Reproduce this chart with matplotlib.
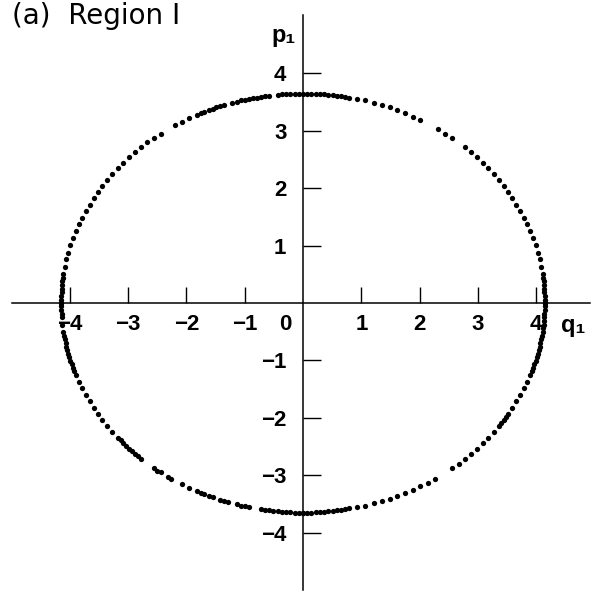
import numpy as np
import matplotlib
matplotlib.use('Agg')
from matplotlib import pyplot as plt

# surface-of-section points (q1, p1), listed quadrant by quadrant
q_ur = [4.15, 4.15, 4.15, 4.14, 4.14, 4.13, 4.13, 4.12, 4.11,
        4.09, 4.06, 4.03, 3.99, 3.95, 3.90, 3.85, 3.79, 3.73, 3.66, 3.59,
        3.52, 3.44, 3.36, 3.27, 3.18, 3.08, 2.99, 2.88, 2.78,
        2.56, 2.44, 2.32,
        2.01, 1.88, 1.75, 1.62, 1.49, 1.35, 1.21, 1.07, 0.93, 0.79,
        0.72, 0.65, 0.58, 0.51, 0.43, 0.36, 0.29, 0.22, 0.14, 0.07]
p_ur = [0.00, 0.06, 0.13, 0.19, 0.25, 0.32, 0.38, 0.44, 0.51,
        0.63, 0.76, 0.88, 1.01, 1.13, 1.25, 1.37, 1.48, 1.60, 1.71, 1.83,
        1.93, 2.04, 2.15, 2.25, 2.35, 2.44, 2.54, 2.63, 2.71,
        2.88, 2.95, 3.03,
        3.19, 3.25, 3.31, 3.36, 3.41, 3.45, 3.49, 3.53, 3.56, 3.58,
        3.59, 3.61, 3.61, 3.62, 3.63, 3.64, 3.64, 3.64, 3.65, 3.65]

q_ul = [0.00, -0.07, -0.14, -0.22, -0.29, -0.36, -0.43,
        -0.58, -0.65, -0.72, -0.79, -0.86, -0.93, -1.00, -1.07, -1.14, -1.21,
        -1.35, -1.42, -1.49, -1.55, -1.62, -1.69, -1.75, -1.82,
        -1.95, -2.08, -2.20,
        -2.44, -2.56, -2.67, -2.78, -2.88, -2.99, -3.08, -3.18, -3.27, -3.36,
        -3.44, -3.52, -3.59, -3.66, -3.73, -3.79, -3.85, -3.90, -3.95, -3.99,
        -4.03, -4.06, -4.09, -4.11,
        -4.12, -4.13, -4.13, -4.14, -4.14, -4.15, -4.15, -4.15]
p_ul = [3.65, 3.65, 3.65, 3.64, 3.64, 3.64, 3.63,
        3.61, 3.61, 3.59, 3.58, 3.57, 3.56, 3.54, 3.53, 3.51, 3.49,
        3.45, 3.43, 3.41, 3.38, 3.36, 3.33, 3.31, 3.28,
        3.22, 3.16, 3.10,
        2.95, 2.88, 2.80, 2.71, 2.63, 2.54, 2.44, 2.35, 2.25, 2.15,
        2.04, 1.93, 1.83, 1.71, 1.60, 1.48, 1.37, 1.25, 1.13, 1.01,
        0.88, 0.76, 0.63, 0.51,
        0.44, 0.38, 0.32, 0.25, 0.19, 0.13, 0.06, 0.00]

q_ll = [-4.15, -4.15, -4.15, -4.14, -4.14,
        -4.13, -4.11, -4.10, -4.09, -4.07, -4.06, -4.04, -4.03, -4.01, -3.99,
        -3.97, -3.95, -3.92, -3.90,
        -3.85, -3.79, -3.73, -3.66, -3.59, -3.52, -3.44, -3.36, -3.27, -3.18,
        -3.13, -3.08, -3.04, -2.99, -2.93, -2.88, -2.83, -2.78,
        -2.56, -2.50, -2.44, -2.32, -2.26,
        -2.08, -1.95, -1.82, -1.75, -1.69, -1.62, -1.55,
        -1.42, -1.35, -1.28, -1.14, -1.07, -1.00, -0.93,
        -0.72, -0.65, -0.58, -0.51, -0.43, -0.36, -0.29, -0.22, -0.14, -0.07, 0.00]
p_ll = [0.00, -0.06, -0.13, -0.19, -0.25,
        -0.38, -0.51, -0.57, -0.63, -0.70, -0.76, -0.82, -0.88, -0.94, -1.01,
        -1.07, -1.13, -1.19, -1.25,
        -1.37, -1.48, -1.60, -1.71, -1.83, -1.93, -2.04, -2.15, -2.25, -2.35,
        -2.39, -2.44, -2.49, -2.54, -2.58, -2.63, -2.67, -2.71,
        -2.88, -2.92, -2.95, -3.03, -3.06,
        -3.16, -3.22, -3.28, -3.31, -3.33, -3.36, -3.38,
        -3.43, -3.45, -3.47, -3.51, -3.53, -3.54, -3.56,
        -3.59, -3.61, -3.61, -3.62, -3.63, -3.64, -3.64, -3.64, -3.65, -3.65, -3.65]

q_lr = [4.15, 4.15, 4.15, 4.14, 4.14, 4.13, 4.13, 4.12, 4.11, 4.10, 4.09,
        4.07, 4.06, 4.04, 4.03, 4.01, 3.99, 3.97, 3.95, 3.92, 3.90,
        3.85, 3.79, 3.73, 3.66, 3.59, 3.52, 3.48, 3.44, 3.40, 3.36,
        3.27, 3.18, 3.08, 2.99, 2.88, 2.78, 2.67, 2.56,
        2.26, 2.14, 2.01, 1.88, 1.75, 1.62, 1.49, 1.35, 1.21, 1.07, 0.93, 0.79,
        0.72, 0.65, 0.58, 0.51, 0.43, 0.36, 0.29, 0.22, 0.14, 0.07, 0.00]
p_lr = [0.00, -0.06, -0.13, -0.19, -0.25, -0.32, -0.38, -0.44, -0.51, -0.57, -0.63,
        -0.70, -0.76, -0.82, -0.88, -0.94, -1.01, -1.07, -1.13, -1.19, -1.25,
        -1.37, -1.48, -1.60, -1.71, -1.83, -1.93, -1.99, -2.04, -2.09, -2.15,
        -2.25, -2.35, -2.44, -2.54, -2.63, -2.71, -2.80, -2.88,
        -3.06, -3.13, -3.19, -3.25, -3.31, -3.36, -3.41, -3.45, -3.49, -3.53,
        -3.56, -3.58,
        -3.59, -3.61, -3.61, -3.62, -3.63, -3.64, -3.64, -3.64, -3.65, -3.65, -3.65]

xticks = [-4, -3, -2, -1, 1, 2, 3, 4]
yticks = [-4, -3, -2, -1, 1, 2, 3, 4]
xticklabels = ['\u22124', '\u22123', '\u22122', '\u22121', '1', '2', '3', '4']
yticklabels = ['\u22124', '\u22123', '\u22122', '\u22121', '1', '2', '3', '4']

fam = ['Liberation Sans', 'DejaVu Sans']

fig = plt.figure(figsize=(5.95, 5.94), dpi=100)
ax = fig.add_axes([0, 0, 1, 1])
ax.set_xlim(-5.197, 5.008)
ax.set_ylim(-5.07, 5.28)

for q, p in [(q_ur, p_ur), (q_ul, p_ul), (q_ll, p_ll), (q_lr, p_lr)]:
    ax.plot(q, p, 'o', color='black', ms=3.8, mec='none', zorder=3)

# axes crossing at the origin
ax.spines['left'].set_position(('data', 0))
ax.spines['bottom'].set_position(('data', 0))
ax.spines['right'].set_visible(False)
ax.spines['top'].set_visible(False)
ax.spines['bottom'].set_bounds(-4.99, 4.92)
ax.spines['left'].set_bounds(-5.0, 5.02)
for s in ['left', 'bottom']:
    ax.spines[s].set_linewidth(1.1)

ax.set_xticks(xticks)
ax.set_xticklabels(xticklabels)
ax.set_yticks(yticks)
ax.set_yticklabels(yticklabels)
ax.tick_params(axis='x', direction='in', length=11.5, width=1.0, pad=8)
ax.tick_params(axis='y', direction='in', length=13, width=1.0, pad=12)
for lab in ax.get_xticklabels() + ax.get_yticklabels():
    lab.set_family(fam)
    lab.set_fontsize(16)
    lab.set_fontweight('bold')

ax.annotate('0', xy=(0, 0), xytext=(-13, -8), textcoords='offset points',
            ha='center', va='top', fontsize=16, fontweight='bold', family=fam)
ax.text(-0.33, 4.67, 'p\u2081', ha='center', va='center',
        fontsize=17, fontweight='bold', family=fam)
ax.text(4.64, -0.40, 'q\u2081', ha='center', va='center',
        fontsize=17, fontweight='bold', family=fam)

fig.text(0.02, 0.997, '(a)  Region \u2160', ha='left', va='top',
         fontsize=20, family=['DejaVu Sans'])

fig.savefig('out.png', dpi=100)
